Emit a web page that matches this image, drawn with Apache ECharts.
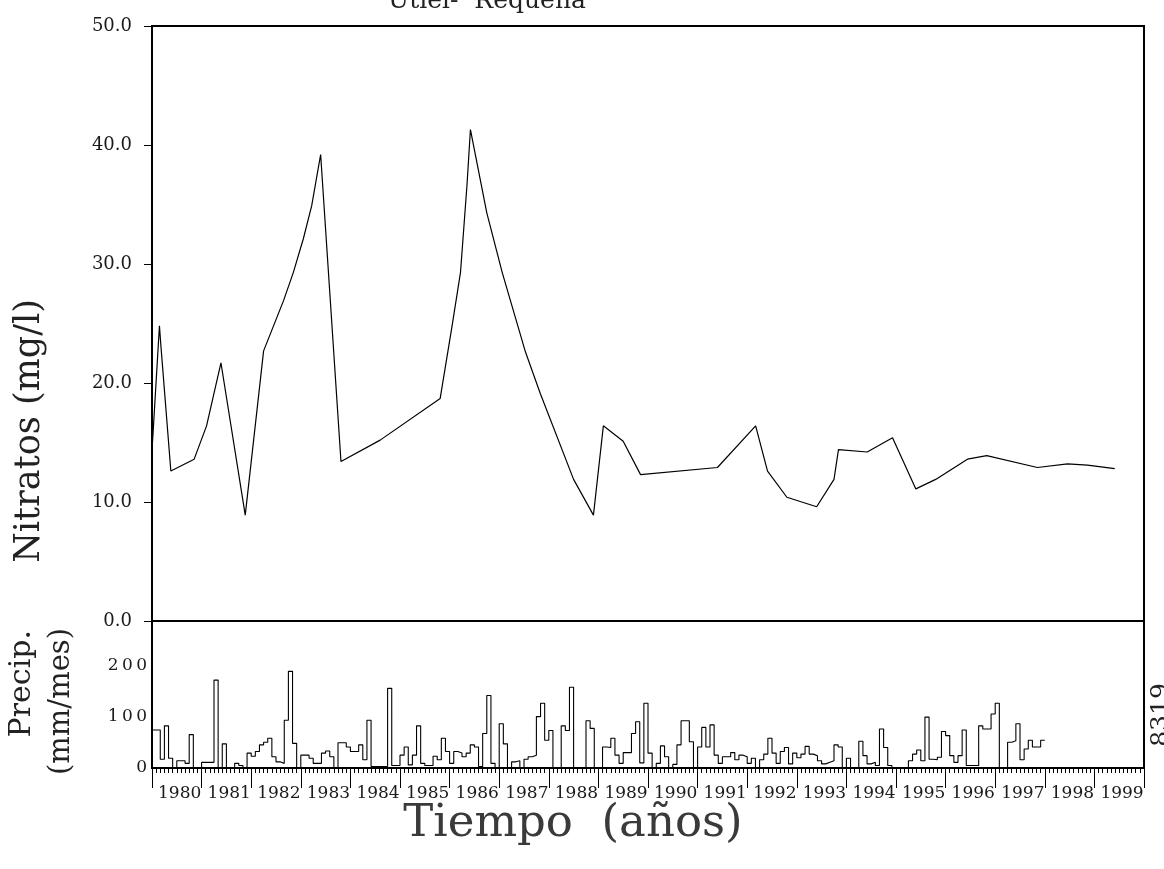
<!DOCTYPE html>
<html>
<head>
<meta charset="utf-8">
<script src="https://cdn.jsdelivr.net/npm/echarts@6/dist/echarts.min.js"></script>
<style>
html,body{margin:0;padding:0;background:#fff;}
#chart{width:1164px;height:869px;}
</style>
</head>
<body>
<div id="chart"></div>
<script>
// ---- Nitrate concentration (mg/l) by decimal year ----
const nitrateYears = [1980.01, 1980.15, 1980.18, 1980.38, 1980.85, 1981.10, 1981.39, 1981.88, 1982.25, 1982.45,
  1982.65, 1982.85, 1983.05, 1983.22, 1983.40, 1983.81, 1984.60, 1985.81, 1986.05, 1986.22,
  1986.35, 1986.42, 1986.75, 1987.06, 1987.53, 1987.83, 1988.50, 1988.90, 1989.10, 1989.50,
  1989.85, 1991.40, 1992.17, 1992.41, 1992.80, 1993.40, 1993.75, 1993.84, 1994.42, 1994.93,
  1995.40, 1995.80, 1996.44, 1996.83, 1997.85, 1998.46, 1998.86, 1999.41];
const nitrateValues = [15.0, 24.8, 23.1, 12.6, 13.6, 16.4, 21.7, 8.9, 22.7, 24.8,
  26.9, 29.3, 32.1, 34.9, 39.2, 13.4, 15.2, 18.7, 24.8, 29.3,
  36.6, 41.3, 34.3, 29.3, 22.6, 19.1, 11.9, 8.9, 16.4, 15.1,
  12.3, 12.9, 16.4, 12.6, 10.4, 9.6, 11.9, 14.4, 14.2, 15.4,
  11.1, 11.9, 13.6, 13.9, 12.9, 13.2, 13.1, 12.8];

// ---- Monthly precipitation (mm/mes), Jan 1980 .. Dec 1997 ----
const precipStartYear = 1980;
const precipMonthly = [
  74, 74, 17, 82, 19, 0, 14, 14, 9, 65, 0, 0,          // 1980
  11, 11, 11, 171, 0, 47, 0, 0, 9, 5, 0, 29,           // 1981
  23, 32, 45, 50, 58, 22, 12, 9, 93, 188, 48, 0,       // 1982
  25, 25, 19, 9, 9, 29, 33, 22, 0, 49, 49, 41,         // 1983
  32, 32, 45, 16, 93, 3, 3, 3, 3, 155, 5, 5,           // 1984
  25, 41, 6, 25, 82, 9, 5, 5, 23, 16, 58, 32,          // 1985
  9, 32, 29, 22, 29, 45, 41, 3, 67, 141, 9, 0,         // 1986
  86, 47, 0, 12, 14, 0, 17, 22, 25, 100, 126, 54,      // 1987
  73, 0, 0, 82, 73, 157, 0, 0, 0, 92, 77, 0,           // 1988
  0, 41, 40, 58, 25, 9, 30, 30, 67, 90, 10, 126,       // 1989
  29, 0, 9, 43, 22, 0, 7, 45, 92, 92, 51, 0,           // 1990
  41, 79, 41, 84, 25, 9, 22, 22, 30, 16, 25, 22,       // 1991
  9, 19, 0, 16, 27, 58, 29, 9, 32, 40, 8, 29,          // 1992
  20, 27, 42, 27, 24, 14, 8, 11, 14, 45, 41, 0,        // 1993
  19, 0, 0, 52, 24, 8, 11, 5, 76, 40, 5, 0,            // 1994
  0, 0, 0, 14, 27, 35, 14, 99, 17, 16, 21, 71,         // 1995
  63, 24, 11, 24, 74, 5, 5, 5, 82, 76, 76, 105,        // 1996
  126, 0, 0, 50, 53, 86, 16, 37, 54, 41, 41, 54        // 1997
];

// ---- Tick labels ----
const nitrateTicks = ['0.0', '10.0', '20.0', '30.0', '40.0', '50.0'];
const precipTicks = ['0', '100', '200'];
const yearLabels = ['1980','1981','1982','1983','1984','1985','1986','1987','1988','1989',
  '1990','1991','1992','1993','1994','1995','1996','1997','1998','1999'];

// ---- Build series data ----
const nitrateData = nitrateYears.map((y, i) => [y, nitrateValues[i]]);
const precipData = precipMonthly.map((v, i) => [precipStartYear + i / 12, v]);
precipData.push([precipStartYear + precipMonthly.length / 12, precipMonthly[precipMonthly.length - 1]]);

const SERIF = 'DejaVu Serif';
const spaced = (s, sep) => s.split('').join(sep);

const chart = echarts.init(document.getElementById('chart'), null, {renderer: 'canvas'});
chart.setOption({
  animation: false,
  backgroundColor: '#ffffff',
  grid: [
    {left: 152, right: 20, top: 26, height: 595, show: true, borderColor: '#000', borderWidth: 2, backgroundColor: 'transparent'},
    {left: 152, right: 20, top: 621, height: 147, show: true, borderColor: '#000', borderWidth: 2, backgroundColor: 'transparent'}
  ],
  xAxis: [
    {gridIndex: 0, type: 'value', min: 1980, max: 2000, show: false},
    {gridIndex: 1, type: 'value', min: 1980, max: 2000, interval: 1,
      axisLine: {show: true, lineStyle: {color: '#000', width: 2}},
      axisTick: {show: true, length: 20, lineStyle: {color: '#000', width: 1}},
      minorTick: {show: true, splitNumber: 12, length: 5, lineStyle: {color: '#000', width: 1}},
      splitLine: {show: false},
      axisLabel: {
        show: true, margin: 17, align: 'left', padding: [0, 0, 0, 6],
        fontFamily: SERIF, fontSize: 17, color: '#1a1a1a',
        showMaxLabel: false, hideOverlap: false,
        formatter: function (v) {
          const idx = Math.round(v) - 1980;
          return (idx >= 0 && idx < yearLabels.length) ? yearLabels[idx] : '';
        }
      }
    }
  ],
  yAxis: [
    {gridIndex: 0, type: 'value', min: 0, max: 50, interval: 10,
      axisLine: {show: true, lineStyle: {color: '#000', width: 2}},
      axisTick: {show: true, length: 8, lineStyle: {color: '#000', width: 1}},
      splitLine: {show: false},
      axisLabel: {
        margin: 20, fontFamily: SERIF, fontSize: 18, color: '#1a1a1a',
        formatter: function (v) {
          const idx = Math.round(v / 10);
          return nitrateTicks[idx] ? nitrateTicks[idx] : '';
        }
      }
    },
    {gridIndex: 1, type: 'value', min: 0, max: 286, interval: 100,
      axisLine: {show: true, lineStyle: {color: '#000', width: 2}},
      axisTick: {show: false},
      splitLine: {show: false},
      axisLabel: {
        margin: 5, fontFamily: SERIF, fontSize: 17, color: '#1a1a1a', showMaxLabel: false,
        formatter: function (v) {
          const idx = v / 100;
          return (Number.isInteger(idx) && precipTicks[idx]) ? spaced(precipTicks[idx], '\u2009') : '';
        }
      }
    }
  ],
  series: [
    {type: 'line', xAxisIndex: 0, yAxisIndex: 0, data: nitrateData, showSymbol: false,
      lineStyle: {color: '#000', width: 1.2}, silent: true},
    {type: 'line', xAxisIndex: 1, yAxisIndex: 1, data: precipData, step: 'end', showSymbol: false,
      lineStyle: {color: '#000', width: 1.1}, silent: true}
  ],
  graphic: [
    {type: 'text', x: 487, y: 14, style: {text: 'Utiel-  Requena', font: '25px "DejaVu Serif"', fill: '#222', align: 'center', verticalAlign: 'bottom'}},
    {type: 'text', x: 30, y: 431, rotation: Math.PI / 2, style: {text: 'Nitratos (mg/l)', font: '35px "DejaVu Serif"', fill: '#222', align: 'center', verticalAlign: 'middle'}},
    {type: 'text', x: 22, y: 630, rotation: Math.PI / 2, style: {text: 'Precip.', font: '30px "DejaVu Serif"', fill: '#222', align: 'right', verticalAlign: 'middle'}},
    {type: 'text', x: 61, y: 628, rotation: Math.PI / 2, style: {text: '(mm/mes)', font: '29px "DejaVu Serif"', fill: '#222', align: 'right', verticalAlign: 'middle'}},
    {type: 'text', x: 573, y: 824, style: {text: 'Tiempo  (años)', font: '45px "DejaVu Serif"', fill: '#3a3a3a', align: 'center', verticalAlign: 'middle'}},
    {type: 'text', x: 1149, y: 715, rotation: Math.PI / 2, style: {text: '8319', font: '25px "DejaVu Serif"', fill: '#222', align: 'center', verticalAlign: 'top'}}
  ]
});
</script>
</body>
</html>
